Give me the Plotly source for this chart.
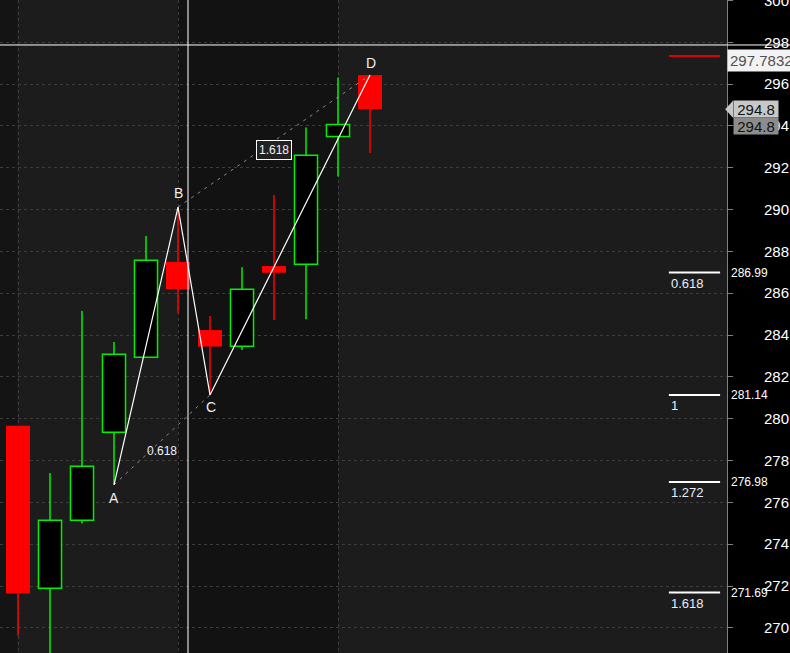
import plotly.graph_objects as go

# ---- data ----
idx = list(range(12))
opens = [279.66, 271.90, 275.15, 279.35, 282.94, 287.50, 284.24, 283.47, 287.30, 287.39, 293.49, 296.43]
highs = [279.66, 277.41, 285.15, 283.67, 288.74, 290.12, 284.91, 287.24, 290.70, 293.93, 296.32, 296.43]
lows = [269.63, 268.40, 274.99, 276.84, 282.94, 285.04, 281.14, 283.29, 284.72, 284.76, 291.58, 292.70]
closes = [271.64, 275.15, 277.73, 283.08, 287.58, 286.19, 283.45, 286.19, 286.98, 292.60, 294.07, 294.80]

pattern_labels = ["A", "B", "C", "D"]
pattern_x = [3, 5, 6, 11]
pattern_y = [276.84, 290.12, 281.14, 296.43]
ratio_ac = "0.618"
ratio_bd = "1.618"

fib_ratios = ["0.618", "1", "1.272", "1.618"]
fib_values = [286.99, 281.14, 276.98, 271.69]
fib_texts = ["286.99", "281.14", "276.98", "271.69"]

red_level = 297.34
crosshair_x = 5.3125
crosshair_y = 297.87
crosshair_label = "297.7832"
last_price = 294.80
last_price_2 = 293.98

y_ticks = list(range(270, 301, 2))

GREEN = "#00f000"
RED = "#ff0000"

fig = go.Figure()

# wicks (upper and lower segments, not through the body)
def wick_xy(sel):
    xs, ys = [], []
    for i in idx:
        if not sel(i):
            continue
        top = max(opens[i], closes[i])
        bot = min(opens[i], closes[i])
        if highs[i] > top:
            xs += [i, i, None]
            ys += [top, highs[i], None]
        if lows[i] < bot:
            xs += [i, i, None]
            ys += [lows[i], bot, None]
    return xs, ys

up = lambda i: closes[i] >= opens[i]
dn = lambda i: closes[i] < opens[i]

# bodies
ux = [i for i in idx if up(i)]
fig.add_trace(go.Bar(x=ux, y=[closes[i] - opens[i] for i in ux], base=[opens[i] for i in ux],
                     width=0.72, marker=dict(color="#000000", line=dict(color=GREEN, width=1.5)),
                     hoverinfo="skip"))
dx = [i for i in idx if dn(i)]
fig.add_trace(go.Bar(x=dx, y=[closes[i] - opens[i] for i in dx], base=[opens[i] for i in dx],
                     width=0.75, marker=dict(color=RED, line=dict(width=0)),
                     hoverinfo="skip"))

wx, wy = wick_xy(up)
fig.add_trace(go.Scatter(x=wx, y=wy, mode="lines", line=dict(color=GREEN, width=1.5), hoverinfo="skip"))
wx, wy = wick_xy(dn)
fig.add_trace(go.Scatter(x=wx, y=wy, mode="lines", line=dict(color=RED, width=1.5), hoverinfo="skip"))

# dashed retracement connectors A-C, B-D
fig.add_trace(go.Scatter(x=[pattern_x[0], pattern_x[2]], y=[pattern_y[0], pattern_y[2]], mode="lines",
                         line=dict(color="#8a8a8a", width=1, dash="3px,5px"), hoverinfo="skip"))
fig.add_trace(go.Scatter(x=[pattern_x[1], pattern_x[3]], y=[pattern_y[1], pattern_y[3]], mode="lines",
                         line=dict(color="#8a8a8a", width=1, dash="3px,5px"), hoverinfo="skip"))
# ABCD zigzag
fig.add_trace(go.Scatter(x=pattern_x, y=pattern_y, mode="lines", line=dict(color="#ffffff", width=1.2),
                         hoverinfo="skip"))

shapes = []
# background bands
shapes.append(dict(type="rect", xref="x", yref="paper", x0=-1, x1=-0.03, y0=0, y1=1,
                   fillcolor="#141414", line=dict(width=0), layer="below"))
shapes.append(dict(type="rect", xref="x", yref="paper", x0=5, x1=10, y0=0, y1=1,
                   fillcolor="#121212", line=dict(width=0), layer="below"))
# fib lines
for v in fib_values:
    shapes.append(dict(type="line", xref="x", yref="y", x0=20.34, x1=21.94, y0=v, y1=v,
                       line=dict(color="#ffffff", width=2)))
shapes.append(dict(type="line", xref="x", yref="y", x0=20.34, x1=21.94, y0=red_level, y1=red_level,
                   line=dict(color="#e00000", width=2)))
# crosshair
shapes.append(dict(type="line", xref="paper", yref="y", x0=0, x1=1.1, y0=crosshair_y, y1=crosshair_y,
                   line=dict(color="#ffffff", width=1)))
shapes.append(dict(type="line", xref="x", yref="paper", x0=crosshair_x, x1=crosshair_x, y0=0, y1=1,
                   line=dict(color="#ffffff", width=1)))
# last price arrow pointer
shapes.append(dict(type="path", xref="paper", yref="y",
                   path=f"M 0.9975 {last_price} L 1.0085 {last_price + 0.42} L 1.0085 {last_price - 0.42} Z",
                   fillcolor="#c8c8c8", line=dict(width=0)))

annotations = []
for lab, px, py in zip(pattern_labels, pattern_x, pattern_y):
    off = {"A": -0.62, "B": 0.68, "C": -0.6, "D": 0.6}[lab]
    annotations.append(dict(x=px + (0.03 if lab in "CD" else 0), y=py + off, xref="x", yref="y", text=lab,
                            showarrow=False, font=dict(family="Liberation Sans", size=14, color="#eeeeee")))
annotations.append(dict(x=(pattern_x[0] + pattern_x[2]) / 2, y=(pattern_y[0] + pattern_y[2]) / 2 - 0.52,
                        xref="x", yref="y", text=ratio_ac, showarrow=False,
                        font=dict(family="Liberation Sans", size=12, color="#eef2ff")))
annotations.append(dict(x=(pattern_x[1] + pattern_x[3]) / 2, y=(pattern_y[1] + pattern_y[3]) / 2 - 0.42,
                        xref="x", yref="y", text=ratio_bd, showarrow=False,
                        bgcolor="#222222", bordercolor="#ffffff", borderwidth=1, borderpad=2,
                        font=dict(family="Liberation Sans", size=12, color="#eef2ff")))
for r, v, t in zip(fib_ratios, fib_values, fib_texts):
    annotations.append(dict(x=20.34, y=v, xref="x", yref="y", text=r, showarrow=False,
                            xanchor="left", yanchor="top", yshift=-1,
                            font=dict(family="Liberation Sans", size=13, color="#e6eeff")))
    annotations.append(dict(x=1.003, y=v, xref="paper", yref="y", text=t, showarrow=False,
                            xanchor="left", yanchor="middle",
                            font=dict(family="Liberation Sans", size=12, color="#ffffff")))
annotations.append(dict(x=1.0, y=297.15, xref="paper", yref="y", text=crosshair_label, showarrow=False,
                        xanchor="left", yanchor="middle", bgcolor="#f2f2f2", borderpad=2,
                        font=dict(family="Liberation Sans", size=15, color="#505050")))
annotations.append(dict(x=1.0085, y=last_price, xref="paper", yref="y", text=f"{last_price:.1f}",
                        showarrow=False, xanchor="left", yanchor="middle", bgcolor="#c8c8c8",
                        width=44, height=16, align="center", borderpad=0,
                        font=dict(family="Liberation Sans", size=15, color="#111111")))
annotations.append(dict(x=1.0085, y=last_price_2, xref="paper", yref="y", text=f"{last_price:.1f}",
                        showarrow=False, xanchor="left", yanchor="middle", bgcolor="#8c8c8c",
                        width=44, height=16, align="center", borderpad=0,
                        font=dict(family="Liberation Sans", size=15, color="#111111")))

fig.update_layout(
    width=790, height=653,
    margin=dict(l=0, r=63, t=0, b=0, autoexpand=False),
    paper_bgcolor="#000000",
    plot_bgcolor="#1c1c1c",
    showlegend=False,
    hovermode=False,
    barmode="overlay",
    shapes=shapes,
    annotations=annotations,
    xaxis=dict(range=[-0.5625, 22.156], tickvals=[0, 5, 10], showticklabels=False, ticks="",
               showgrid=True, gridcolor="#3c3c3c", griddash="dot", gridwidth=1, zeroline=False,
               showline=False, fixedrange=True, automargin=False),
    yaxis=dict(range=[268.80, 300.02], side="right", tickvals=y_ticks, ticktext=[str(t) for t in y_ticks],
               ticks="outside", ticklen=5, tickcolor="#808080", showline=True, linecolor="#808080",
               linewidth=1, showgrid=True, gridcolor="#3c3c3c", griddash="dot", gridwidth=1,
               zeroline=False, ticklabelstandoff=28, ticklabeloverflow="allow", automargin=False,
               tickfont=dict(family="Liberation Sans", size=15, color="#ffffff"), fixedrange=True),
)

fig.write_html("out.html", config={"displayModeBar": False},
               post_script="document.body.style.margin='0';document.body.style.overflow='hidden';")
